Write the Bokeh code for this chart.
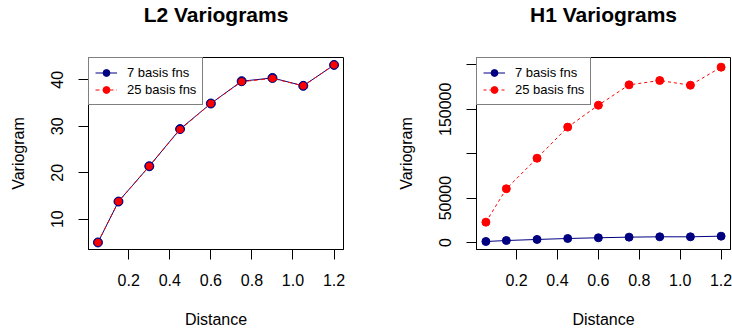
from bokeh.plotting import figure
from bokeh.layouts import row
from bokeh.models import Range1d, FixedTicker, Legend, LegendItem, Title
from bokeh.embed import file_html
from bokeh.resources import INLINE

# ---- data ----
distance = [0.05, 0.15, 0.30, 0.45, 0.60, 0.75, 0.90, 1.05, 1.20]
l2_7basis = [5.0, 13.8, 21.4, 29.4, 34.9, 39.7, 40.4, 38.7, 43.2]
l2_25basis = [5.0, 13.8, 21.4, 29.3, 34.9, 39.6, 40.3, 38.7, 43.2]
h1_7basis = [1100, 2200, 3400, 4500, 5300, 6000, 6400, 6400, 7100]
h1_25basis = [22900, 60500, 94900, 129900, 154600, 177500, 182400, 177100, 197400]
x_ticks = [0.2, 0.4, 0.6, 0.8, 1.0, 1.2]
x_tick_labels = ["0.2", "0.4", "0.6", "0.8", "1.0", "1.2"]
l2_y_ticks = [10, 20, 30, 40]
l2_y_tick_labels = ["10", "20", "30", "40"]
h1_y_ticks = [0, 50000, 100000, 150000, 200000]
h1_y_tick_labels = ["0", "50000", "", "150000", ""]
series_labels = ["7 basis fns", "25 basis fns"]
titles = ["L2 Variograms", "H1 Variograms"]

FONT = "Liberation Sans"
BLUE = "#000080"
RED = "#FF0000"


def make_fig(title, y7, y25, yrange, yticks, ylabels, min_left, min_right,
             dash25, size7, size25, width):
    p = figure(width=width, height=333, output_backend="svg", toolbar_location=None,
               x_range=Range1d(0.004, 1.246), y_range=Range1d(*yrange),
               min_border_left=min_left, min_border_right=min_right,
               min_border_top=57, min_border_bottom=84)
    # spacer between the title and the plot box
    spacer = Title(text=" ", standoff=8, text_font=FONT, text_font_size="20px")
    p.add_layout(spacer, "above")
    p.add_layout(Title(text=title, align="center", standoff=0,
                       text_font=FONT, text_font_size="21px",
                       text_font_style="bold", text_color="black"), "above")
    p.xgrid.visible = False
    p.ygrid.visible = False
    p.outline_line_color = "black"
    p.outline_line_width = 1
    p.background_fill_color = "white"
    p.border_fill_color = "white"

    for ax in (p.xaxis[0], p.yaxis[0]):
        ax.major_tick_out = 10
        ax.major_tick_in = 0
        ax.minor_tick_out = 0
        ax.minor_tick_in = 0
        ax.axis_line_color = "black"
        ax.major_tick_line_color = "black"
        ax.major_label_text_font = FONT
        ax.major_label_text_font_size = "16px"
        ax.major_label_text_color = "black"
        ax.axis_label_text_font = FONT
        ax.axis_label_text_font_size = "16px"
        ax.axis_label_text_font_style = "normal"
        ax.axis_label_text_color = "black"

    p.xaxis.ticker = FixedTicker(ticks=x_ticks)
    p.xaxis.major_label_overrides = {t: l for t, l in zip(x_ticks, x_tick_labels)}
    p.xaxis.axis_label = "Distance"
    p.xaxis.major_label_standoff = 14
    p.xaxis.axis_label_standoff = 22

    p.yaxis.ticker = FixedTicker(ticks=yticks)
    p.yaxis.major_label_overrides = {t: l for t, l in zip(yticks, ylabels)}
    p.yaxis.major_label_orientation = "parallel"
    p.yaxis.axis_label = "Variogram"
    p.yaxis.major_label_standoff = 15
    p.yaxis.axis_label_standoff = 22

    l7 = p.line(distance, y7, line_color=BLUE, line_width=1)
    s7 = p.scatter(distance, y7, size=size7, fill_color=BLUE, line_color=BLUE)
    l25 = p.line(distance, y25, line_color=RED, line_width=1, line_dash=dash25)
    s25 = p.scatter(distance, y25, size=size25, fill_color=RED, line_color=RED)

    legend = Legend(items=[LegendItem(label=series_labels[0], renderers=[l7, s7]),
                           LegendItem(label=series_labels[1], renderers=[l25, s25])],
                    location="top_left", margin=0, padding=6, spacing=0,
                    glyph_width=22, glyph_height=17, label_height=17,
                    label_standoff=10,
                    label_text_font=FONT, label_text_font_size="13px",
                    label_text_color="black",
                    border_line_color="black", border_line_width=1,
                    background_fill_color="white", background_fill_alpha=1)
    p.add_layout(legend, "center")
    return p


p1 = make_fig(titles[0], l2_7basis, l2_25basis, (3.48, 44.8), l2_y_ticks, l2_y_tick_labels,
              88, 23, "4 3", 9, 6.5, 366)
p2 = make_fig(titles[1], h1_7basis, h1_25basis, (-7900, 208300), h1_y_ticks, h1_y_tick_labels,
              110, 2, "3 3", 8, 8, 366)

layout = row(p1, p2, spacing=0)
open("out.html", "w").write(file_html(layout, INLINE))
